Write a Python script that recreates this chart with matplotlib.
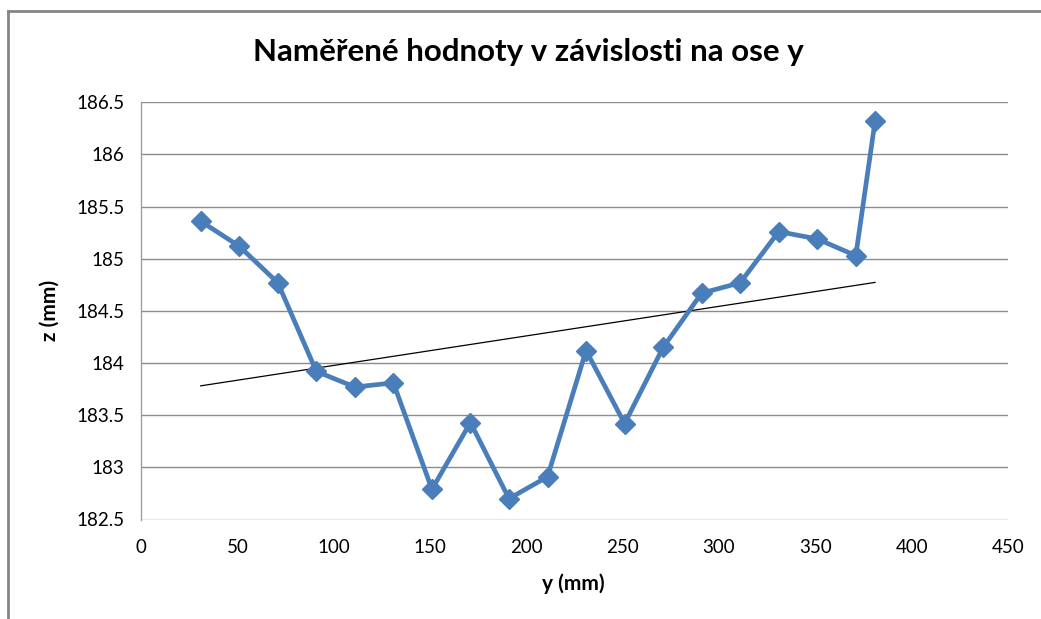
import numpy as np
import matplotlib
matplotlib.use("Agg")
import matplotlib.pyplot as plt
from matplotlib.lines import Line2D

# Data
y_pos = [31, 51, 71, 91, 111, 131, 151, 171, 191, 211, 231, 251, 271, 291, 311, 331, 351, 371, 381]
z_val = [185.36, 185.12, 184.77, 183.92, 183.77, 183.81, 182.79, 183.43, 182.70, 182.91,
         184.12, 183.42, 184.15, 184.67, 184.77, 185.26, 185.19, 185.03, 186.32]
x_ticks = [0, 50, 100, 150, 200, 250, 300, 350, 400, 450]
y_ticks = [182.5, 183, 183.5, 184, 184.5, 185, 185.5, 186, 186.5]
y_tick_labels = ["182.5", "183", "183.5", "184", "184.5", "185", "185.5", "186", "186.5"]
x_tick_labels = [str(v) for v in x_ticks]

title = "Naměřené hodnoty v závislosti na ose y"
xlabel = "y (mm)"
ylabel = "z (mm)"

plt.rcParams['font.family'] = ['Lato', 'DejaVu Sans']

W, H = 1041, 619
fig = plt.figure(figsize=(W / 100, H / 100), dpi=100)
ax = fig.add_axes([141 / W, 1 - 519.5 / H, (1008 - 141) / W, (519.5 - 102.3) / H])

ax.set_xlim(x_ticks[0], x_ticks[-1])
ax.set_ylim(y_ticks[0], y_ticks[-1])
ax.set_xticks(x_ticks)
ax.set_xticklabels(x_tick_labels)
ax.set_yticks(y_ticks)
ax.set_yticklabels(y_tick_labels)
ax.tick_params(length=0, labelsize=13.5, pad=14, colors='black')
ax.tick_params(axis='y', pad=12)

for s in ['top', 'right', 'bottom']:
    ax.spines[s].set_visible(False)
ax.spines['left'].set_color('#a0a0a0')
ax.spines['left'].set_linewidth(1.0)
ax.grid(axis='y', color='#8c8c8c', linewidth=1.0)
ax.set_axisbelow(True)

# trend line (linear regression)
coef = np.polyfit(y_pos, z_val, 1)
xs = np.array([y_pos[0], y_pos[-1]])
ax.plot(xs, np.polyval(coef, xs), color='black', linewidth=0.9, zorder=3)

ax.plot(y_pos, z_val, color='#4A7EBB', linewidth=3.4, marker='D', markersize=10.5,
        markerfacecolor='#4A7EBB', markeredgecolor='#4A7EBB', zorder=4)

fig.text(528 / W, 1 - 52 / H, title, ha='center', va='center', fontsize=22.5, fontweight='bold')
fig.text(573 / W, 1 - 584 / H, xlabel, ha='center', va='center', fontsize=15, fontweight='bold')
fig.text(50 / W, 1 - 310 / H, ylabel, ha='center', va='center', fontsize=15, fontweight='bold', rotation=90)

# outer chart border (left and top edges visible)
fig.add_artist(Line2D([8 / W, 8 / W], [0, 1 - 11 / H], transform=fig.transFigure, color='#868686', linewidth=2))
fig.add_artist(Line2D([8 / W, 1], [1 - 11 / H, 1 - 11 / H], transform=fig.transFigure, color='#868686', linewidth=2))

fig.savefig("out.png", dpi=100)
